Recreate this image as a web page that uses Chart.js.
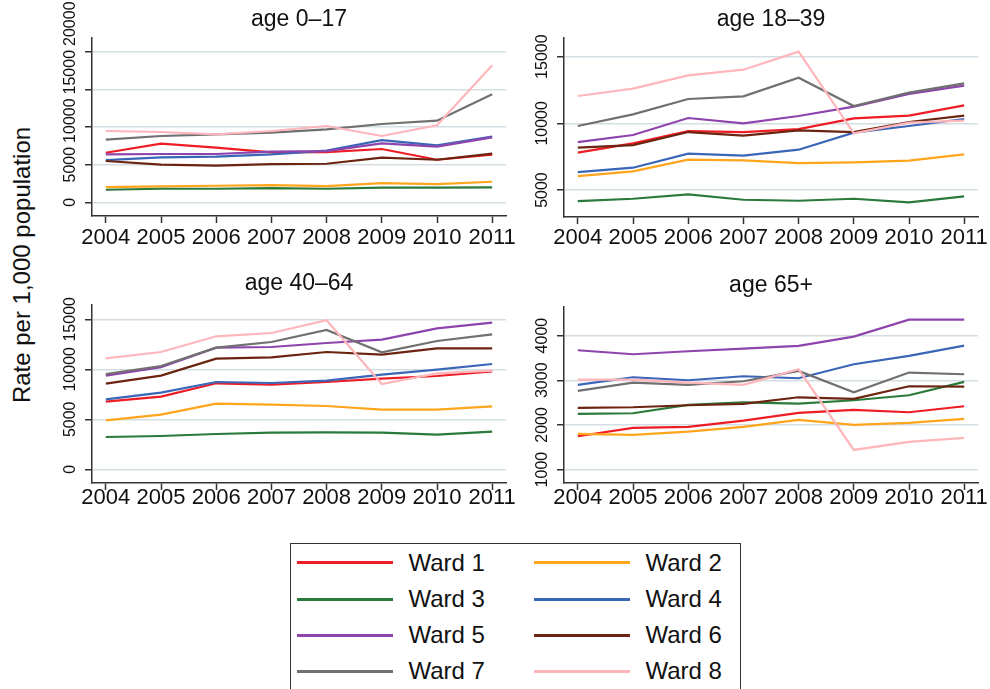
<!DOCTYPE html>
<html>
<head>
<meta charset="utf-8">
<script src="https://cdn.jsdelivr.net/npm/chart.js@4.4.1/dist/chart.umd.min.js"></script>
<style>
  body { margin: 0; width: 990px; height: 689px; background: #fff; position: relative; overflow: hidden;
         font-family: "Liberation Sans", Arial, sans-serif; color: #111; }
  canvas { position: absolute; }
  #ytitle { position: absolute; left: 22px; top: 265px; transform: translate(-50%, -50%) rotate(-90deg);
            font-size: 24px; white-space: nowrap; }
  #legend { position: absolute; left: 290px; top: 543px; width: 449px; height: 170px; border: 1.5px solid #333; }
  .item { position: absolute; height: 36px; line-height: 36px; display: flex; align-items: center; font-size: 24px; }
  .swatch { width: 96px; height: 3px; margin-right: 16px; }
</style>
</head>
<body>
<div id="ytitle">Rate per 1,000 population</div>
<div id="legend"></div>
<script>
const years = [2004, 2005, 2006, 2007, 2008, 2009, 2010, 2011];
const wardNames = ['Ward 1', 'Ward 2', 'Ward 3', 'Ward 4', 'Ward 5', 'Ward 6', 'Ward 7', 'Ward 8'];
const wardColors = ['#ee1c25', '#ffa51c', '#2a7a3b', '#3a66b8', '#8e44ad', '#6b2410', '#707070', '#ffb6bb'];

// one row per ward, one value per year
const rates0to17 = [
  [6590, 7790, 7260, 6640, 6680, 7080, 5660, 6330],
  [2040, 2120, 2210, 2300, 2170, 2570, 2430, 2740],
  [1680, 1810, 1810, 1900, 1810, 1950, 1950, 1990],
  [5620, 5970, 6060, 6370, 6860, 8270, 7570, 8720],
  [6370, 6420, 6420, 6730, 6810, 7830, 7390, 8630],
  [5490, 5000, 4870, 5090, 5130, 5930, 5660, 6460],
  [8320, 8810, 9030, 9250, 9690, 10400, 10840, 14340],
  [9470, 9340, 9030, 9470, 10130, 8810, 10220, 18190]
];
const rates18to39 = [
  [7800, 8500, 9425, 9350, 9575, 10375, 10575, 11350],
  [6050, 6400, 7275, 7225, 7025, 7075, 7200, 7675],
  [4175, 4350, 4675, 4275, 4200, 4350, 4075, 4525],
  [6350, 6675, 7725, 7575, 8025, 9300, 9800, 10325],
  [8600, 9125, 10400, 10000, 10550, 11250, 12200, 12825],
  [8175, 8375, 9350, 9075, 9475, 9350, 10100, 10575],
  [9800, 10675, 11825, 12025, 13425, 11300, 12300, 13000],
  [12050, 12600, 13600, 14025, 15375, 9250, 10050, 10200]
];
const rates40to64 = [
  [6770, 7270, 8600, 8470, 8730, 9070, 9330, 9800],
  [4900, 5470, 6570, 6470, 6330, 5970, 5970, 6300],
  [3230, 3330, 3530, 3670, 3700, 3670, 3470, 3770],
  [7000, 7670, 8730, 8630, 8870, 9470, 9970, 10530],
  [9370, 10200, 12170, 12230, 12630, 12970, 14100, 14670],
  [8570, 9370, 11070, 11200, 11730, 11470, 12100, 12100],
  [9530, 10330, 12170, 12730, 13930, 11700, 12830, 13500],
  [11100, 11730, 13300, 13630, 14900, 8530, 9600, 9870]
];
const rates65plus = [
  [1746, 1933, 1955, 2097, 2269, 2336, 2284, 2418],
  [1799, 1776, 1851, 1955, 2112, 2000, 2045, 2134],
  [2246, 2261, 2448, 2507, 2478, 2552, 2664, 2963],
  [2896, 3067, 3000, 3090, 3045, 3358, 3545, 3776],
  [3672, 3582, 3649, 3709, 3769, 3978, 4358, 4358],
  [2381, 2396, 2440, 2470, 2619, 2582, 2866, 2858],
  [2761, 2948, 2896, 2978, 3209, 2731, 3172, 3134],
  [3015, 3015, 2948, 2896, 3246, 1440, 1619, 1709]
];

const yTicks0to17 = [0, 5000, 10000, 15000, 20000];
const yTicks18to39 = [5000, 10000, 15000];
const yTicks40to64 = [0, 5000, 10000, 15000];
const yTicks65plus = [1000, 2000, 3000, 4000];

// panel placement on the page (canvas box and plot area, in page pixels)
const panels = [
  { title: 'age 0–17', rows: rates0to17, ticks: yTicks0to17, min: -1800, max: 21800,
    box: [50, 0], area: { left: 92, right: 506, top: 38, bottom: 216 }, titleY: 20, labelY: 238 },
  { title: 'age 18–39', rows: rates18to39, ticks: yTicks18to39, min: 2980, max: 16400,
    box: [520, 0], area: { left: 564, right: 978, top: 38, bottom: 217 }, titleY: 20, labelY: 238 },
  { title: 'age 40–64', rows: rates40to64, ticks: yTicks40to64, min: -1370, max: 16430,
    box: [50, 260], area: { left: 92, right: 506, top: 305, bottom: 483 }, titleY: 284, labelY: 498 },
  { title: 'age 65+', rows: rates65plus, ticks: yTicks65plus, min: 700, max: 4640,
    box: [520, 260], area: { left: 564, right: 978, top: 307, bottom: 483 }, titleY: 286, labelY: 498 }
];

const W = 470, H = 260;
const FONT = '"Liberation Sans", Arial, sans-serif';
const TITLE_SIZE = 23, TICK_SIZE = 22;
const AXIS = '#333';
const GRID = '#d3dde3';

// vertical y tick labels, pushed apart from the bottom up when they would collide
const rotatedYLabels = {
  id: 'rotatedYLabels',
  afterDraw(chart) {
    const scale = chart.scales.y;
    const ctx = chart.ctx;
    ctx.save();
    ctx.font = '16px ' + FONT;
    ctx.fillStyle = '#111';
    ctx.textAlign = 'center';
    ctx.textBaseline = 'alphabetic';
    const x = chart.chartArea.left - 17;
    const items = scale.ticks
      .map(t => ({ text: String(t.value), y: scale.getPixelForValue(t.value) }))
      .sort((a, b) => b.y - a.y);
    let limit = Infinity;
    for (const it of items) {
      const half = ctx.measureText(it.text).width / 2;
      const cy = Math.min(it.y, limit - half);
      ctx.save();
      ctx.translate(x, cy);
      ctx.rotate(-Math.PI / 2);
      ctx.fillText(it.text, 0, 0);
      ctx.restore();
      limit = cy - half - 4;
    }
    ctx.restore();
  }
};

panels.forEach(p => {
  const canvas = document.createElement('canvas');
  canvas.width = W;
  canvas.height = H;
  canvas.style.left = p.box[0] + 'px';
  canvas.style.top = p.box[1] + 'px';
  document.body.appendChild(canvas);

  const halfTitle = TITLE_SIZE * 1.2 / 2;
  const titleTop = p.titleY - p.box[1] - halfTitle;
  const titleBottom = p.area.top - p.titleY - halfTitle;
  const tickPad = p.labelY - p.area.bottom - 7 - TICK_SIZE * 1.2 / 2;

  new Chart(canvas.getContext('2d'), {
    type: 'line',
    data: {
      datasets: p.rows.map((vals, i) => ({
        label: wardNames[i],
        data: vals.map((v, j) => ({ x: years[j], y: v })),
        borderColor: wardColors[i],
        backgroundColor: wardColors[i],
        borderWidth: 2.2,
        pointRadius: 0,
        tension: 0,
        order: wardNames.length - i
      }))
    },
    options: {
      responsive: false,
      animation: false,
      devicePixelRatio: 1,
      layout: { padding: { left: 0, top: 0, bottom: 0, right: p.box[0] + W - p.area.right } },
      plugins: {
        legend: { display: false },
        tooltip: { enabled: false },
        title: {
          display: true,
          text: p.title,
          fullSize: false,
          color: '#111',
          font: { family: FONT, size: TITLE_SIZE, weight: 'normal' },
          padding: { top: titleTop, bottom: titleBottom }
        }
      },
      scales: {
        x: {
          type: 'linear',
          min: 2003.75,
          max: 2011.25,
          afterBuildTicks: s => { s.ticks = years.map(v => ({ value: v })); },
          afterFit: s => { s.height = p.box[1] + H - p.area.bottom; },
          ticks: {
            color: '#111',
            font: { family: FONT, size: TICK_SIZE },
            padding: tickPad,
            maxRotation: 0,
            autoSkip: false,
            callback: v => String(v)
          },
          grid: { drawOnChartArea: false, drawTicks: true, tickLength: 7, tickColor: AXIS, tickWidth: 1.5 },
          border: { color: AXIS, width: 1.5 }
        },
        y: {
          min: p.min,
          max: p.max,
          afterBuildTicks: s => { s.ticks = p.ticks.map(v => ({ value: v })); },
          afterFit: s => { s.width = p.area.left - p.box[0]; },
          ticks: { display: false },
          grid: { color: GRID, lineWidth: 1.5, drawTicks: true, tickLength: 7, tickColor: AXIS, tickWidth: 1.5 },
          border: { color: AXIS, width: 1.5 }
        }
      }
    },
    plugins: [rotatedYLabels]
  });
});

// legend: two columns, four rows
const legend = document.getElementById('legend');
wardNames.forEach((name, i) => {
  const item = document.createElement('div');
  item.className = 'item';
  item.style.left = (i % 2 === 0 ? 5.5 : 242.5) + 'px';
  item.style.top = (0.8 + Math.floor(i / 2) * 36.2) + 'px';
  const sw = document.createElement('span');
  sw.className = 'swatch';
  sw.style.background = wardColors[i];
  const label = document.createElement('span');
  label.textContent = name;
  item.appendChild(sw);
  item.appendChild(label);
  legend.appendChild(item);
});
</script>
</body>
</html>
